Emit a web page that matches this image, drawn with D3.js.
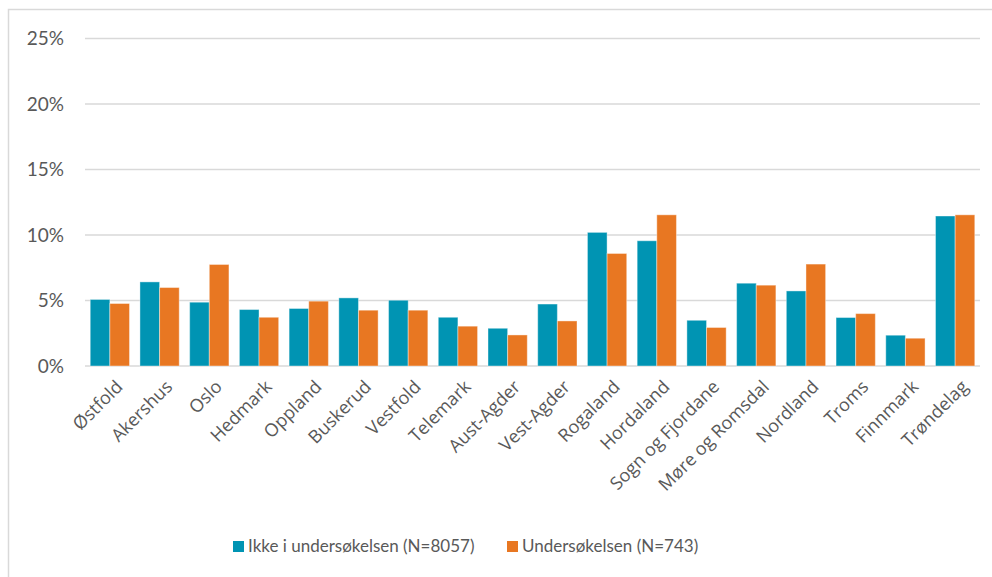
<!DOCTYPE html>
<html>
<head>
<meta charset="utf-8">
<script src="https://cdn.jsdelivr.net/npm/d3@7"></script>
<style>
  body { margin: 0; background: #fff; }
  svg { display: block; font-family: Lato, "Open Sans", sans-serif; }
</style>
</head>
<body>
<script>
// fylker og andeler (prosent)
var fylker = ["Østfold", "Akershus", "Oslo", "Hedmark", "Oppland", "Buskerud", "Vestfold",
  "Telemark", "Aust-Agder", "Vest-Agder", "Rogaland", "Hordaland", "Sogn og Fjordane",
  "Møre og Romsdal", "Nordland", "Troms", "Finnmark", "Trøndelag"];
var ikkeUndersokt = [5.08, 6.42, 4.87, 4.31, 4.39, 5.2, 5.02, 3.72, 2.88, 4.73, 10.2, 9.56, 3.49, 6.32, 5.73, 3.7, 2.35, 11.45];
var undersokt = [4.77, 5.99, 7.75, 3.72, 4.95, 4.26, 4.26, 3.04, 2.37, 3.44, 8.59, 11.54, 2.94, 6.17, 7.78, 4.0, 2.12, 11.54];
var serier = ["Ikke i undersøkelsen (N=8057)", "Undersøkelsen (N=743)"];
var farger = ["#0094B3", "#E87722"];
var yTicks = [0, 5, 10, 15, 20, 25];

var width = 992, height = 577;
var margin = {top: 38.5, right: 12, bottom: 211, left: 85};

var svg = d3.select("body").append("svg")
    .attr("width", width)
    .attr("height", height);

// ramme
svg.append("rect")
    .attr("x", 8.5).attr("y", 9.5)
    .attr("width", 1000).attr("height", 600)
    .attr("fill", "none")
    .attr("stroke", "#d9d9d9")
    .attr("stroke-width", 1.5);

var x = d3.scaleBand()
    .domain(fylker)
    .range([margin.left, width - margin.right])
    .paddingInner(0.21)
    .paddingOuter(0.105);

var x1 = d3.scaleBand()
    .domain([0, 1])
    .range([0, x.bandwidth()]);

var y = d3.scaleLinear()
    .domain([0, 25])
    .range([height - margin.bottom, margin.top]);

// rutenett
svg.append("g")
    .selectAll("line")
    .data(yTicks)
    .join("line")
        .attr("x1", margin.left)
        .attr("x2", width - margin.right)
        .attr("y1", d => y(d))
        .attr("y2", d => y(d))
        .attr("stroke", "#d9d9d9")
        .attr("stroke-width", 1.5);

svg.append("g")
    .selectAll("text")
    .data(yTicks)
    .join("text")
        .attr("x", 64)
        .attr("y", d => y(d))
        .attr("dy", "0.35em")
        .attr("text-anchor", "end")
        .attr("fill", "#595959")
        .style("font-size", "19px")
        .text(d => d + "%");

// stolper
var grupper = svg.append("g")
    .selectAll("g")
    .data(fylker)
    .join("g")
        .attr("transform", d => "translate(" + x(d) + ",0)");

grupper.selectAll("rect")
    .data((d, i) => [ikkeUndersokt[i], undersokt[i]])
    .join("rect")
        .attr("x", (d, j) => x1(j))
        .attr("y", d => y(d))
        .attr("width", x1.bandwidth())
        .attr("height", d => y(0) - y(d))
        .attr("fill", (d, j) => farger[j])
        .attr("stroke", "#fff")
        .attr("stroke-opacity", 0.4)
        .attr("stroke-width", 1);

// kategorinavn
svg.append("g")
    .selectAll("text")
    .data(fylker)
    .join("text")
        .attr("transform", d => "translate(" + (x(d) + x.bandwidth() / 2 + 5) + "," + (y(0) + 13) + ") rotate(-45)")
        .attr("text-anchor", "end")
        .attr("dy", "0.7em")
        .attr("fill", "#595959")
        .style("font-family", "'Open Sans', sans-serif")
        .style("font-size", "18px")
        .text(d => d);

// tegnforklaring
var legende = svg.append("g");
var legX = [233, 507];
serier.forEach(function(s, i) {
  legende.append("rect")
      .attr("x", legX[i]).attr("y", 541)
      .attr("width", 11).attr("height", 11)
      .attr("fill", farger[i]);
  legende.append("text")
      .attr("x", legX[i] + 15)
      .attr("y", 546.5)
      .attr("dy", "0.35em")
      .attr("fill", "#595959")
      .style("font-size", "17px")
      .text(s);
});
</script>
</body>
</html>
